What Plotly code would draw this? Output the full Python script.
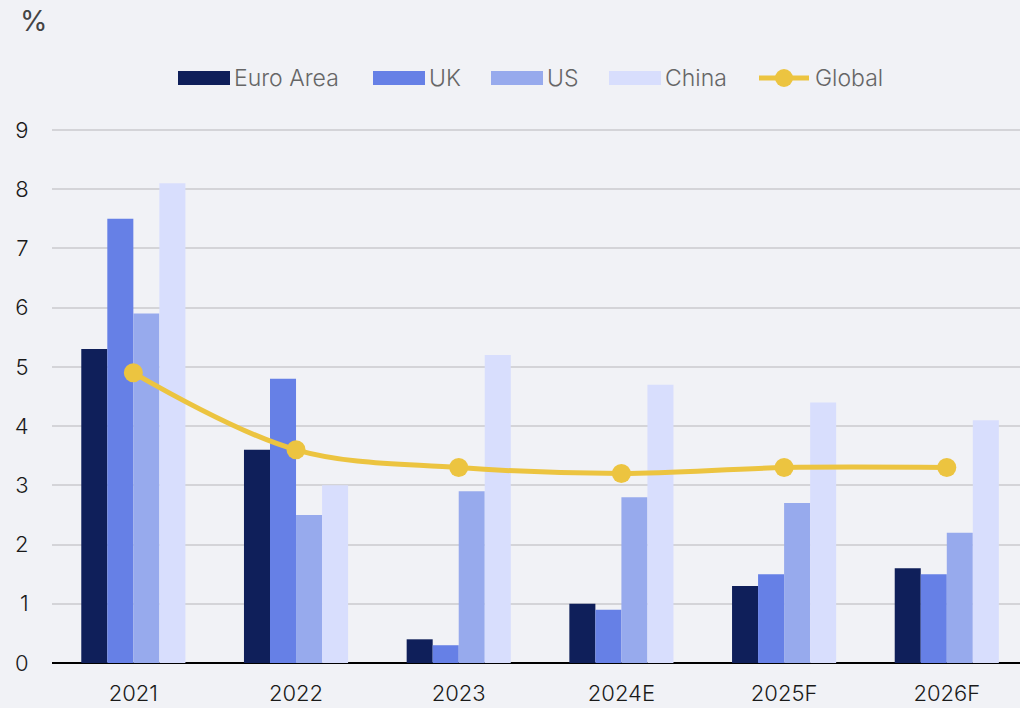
import plotly.graph_objects as go

years = ["2021", "2022", "2023", "2024E", "2025F", "2026F"]
euro_area = [5.3, 3.6, 0.4, 1.0, 1.3, 1.6]
uk = [7.5, 4.8, 0.3, 0.9, 1.5, 1.5]
us = [5.9, 2.5, 2.9, 2.8, 2.7, 2.2]
china = [8.1, 3.0, 5.2, 4.7, 4.4, 4.1]
global_ = [4.9, 3.6, 3.3, 3.2, 3.3, 3.3]

series_names = ["Euro Area", "UK", "US", "China"]
series_colors = ["#0f1f5a", "#6680e6", "#97aaed", "#d8defd"]
global_color = "#ecc440"

W, H = 1020, 708
L, R, T, B = 52, 1020, 127, 663  # plot area in pixels
YTOP = 9 + 3 / 59.2

def px(x):
    return (x - L) / (R - L)

def py(y):
    return (B - y) / (B - T)

fig = go.Figure()
for name, vals, col in zip(series_names, [euro_area, uk, us, china], series_colors):
    fig.add_trace(go.Bar(x=years, y=vals, name=name, marker=dict(color=col, line=dict(width=0)),
                         showlegend=False))

fig.add_trace(go.Scatter(x=years, y=global_, name="Global", mode="lines+markers",
                         line=dict(color=global_color, width=5, shape="spline", smoothing=1.0),
                         marker=dict(size=19, color=global_color), showlegend=False))

# custom legend
shapes = []
annotations = []
legend_items = [
    ("Euro Area", series_colors[0], 178),
    ("UK", series_colors[1], 373),
    ("US", series_colors[2], 491),
    ("China", series_colors[3], 609),
]
ly = 78
lfont = dict(size=23, color="#666666", family="Inter", weight=300)
for name, col, x0 in legend_items:
    shapes.append(dict(type="rect", xref="paper", yref="paper",
                       x0=px(x0), x1=px(x0 + 52), y0=py(ly + 7), y1=py(ly - 7),
                       fillcolor=col, line=dict(width=0), layer="above"))
    annotations.append(dict(text=name, xref="paper", yref="paper", x=px(x0 + 54), y=py(ly),
                            xanchor="left", yanchor="middle", showarrow=False, font=lfont))
# Global line legend
shapes.append(dict(type="line", xref="paper", yref="paper", x0=px(759), x1=px(809),
                   y0=py(ly), y1=py(ly), line=dict(color=global_color, width=5), layer="above"))
shapes.append(dict(type="circle", xref="paper", yref="paper", x0=px(775), x1=px(793),
                   y0=py(ly + 9), y1=py(ly - 9), fillcolor=global_color, line=dict(width=0),
                   layer="above"))
annotations.append(dict(text="Global", xref="paper", yref="paper", x=px(813), y=py(ly),
                        xanchor="left", yanchor="middle", showarrow=False, font=lfont))
annotations.append(dict(text="%", xref="paper", yref="paper", x=px(18), y=py(21),
                        xanchor="left", yanchor="middle", showarrow=False,
                        font=dict(size=28, color="#444444", family="Inter", weight=400)))

tfont = dict(size=22, color="#1a1a1a", family="Inter", weight=300)
fig.update_layout(
    width=W, height=H,
    margin=dict(l=L, r=W - R, t=T, b=H - B),
    paper_bgcolor="#f1f2f6", plot_bgcolor="#f1f2f6",
    barmode="group", bargap=0.36, bargroupgap=0,
    font=dict(family="Inter", size=22, color="#222222"),
    shapes=shapes, annotations=annotations,
    xaxis=dict(range=[-0.5, 5.45], showgrid=False, ticks="outside", ticklen=11,
               tickcolor="rgba(0,0,0,0)", tickfont=tfont,
               showline=False, zeroline=False),
    yaxis=dict(range=[0, YTOP], tickvals=list(range(10)), showgrid=True,
               gridcolor="#d4d4d8", gridwidth=1.5,
               zeroline=True, zerolinecolor="#000000", zerolinewidth=2,
               ticks="outside", ticklen=18, tickcolor="rgba(0,0,0,0)",
               tickfont=tfont, showline=False),
)

fig.write_html("out.html", config={"displayModeBar": False})

with open("out.html", "r", encoding="utf-8") as f:
    html = f.read()
html = html.replace("<body>", "<body style=\"margin:0;padding:0;background:#f1f2f6\">", 1)
with open("out.html", "w", encoding="utf-8") as f:
    f.write(html)
